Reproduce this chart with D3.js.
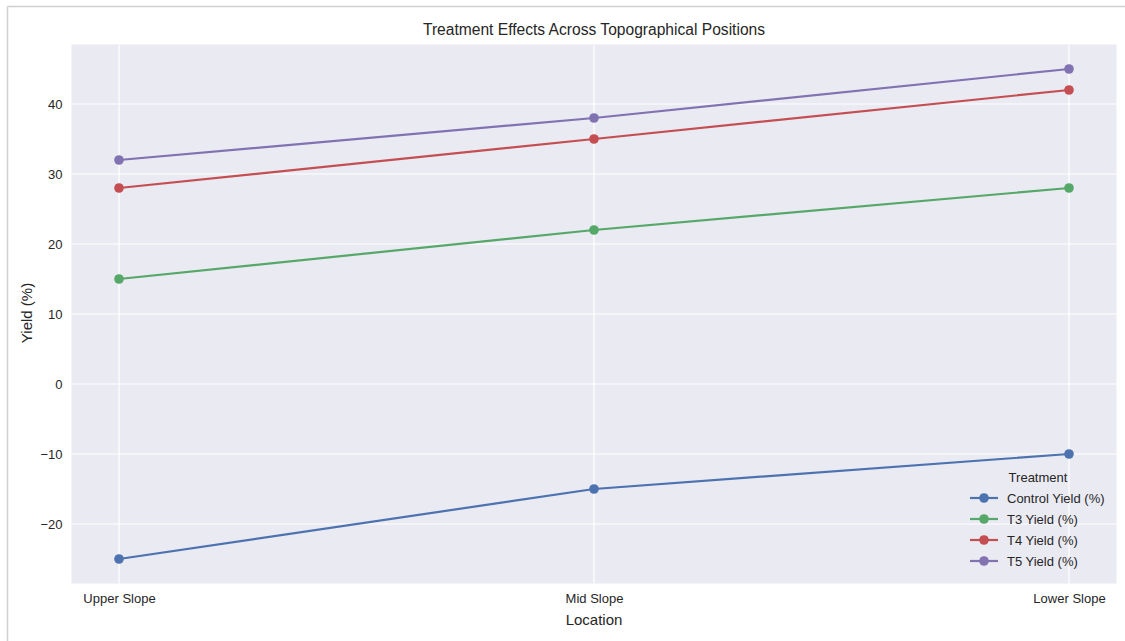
<!DOCTYPE html>
<html><head><meta charset="utf-8">
<script src="https://cdn.jsdelivr.net/npm/d3@7"></script>
<style>body{margin:0;background:#fff;} text{font-family:"Liberation Sans",Arial,sans-serif;}</style>
</head><body>
<svg id="c" width="1125" height="641"></svg>
<script>
const categories = ["Upper Slope", "Mid Slope", "Lower Slope"];
const seriesNames = ["Control Yield (%)", "T3 Yield (%)", "T4 Yield (%)", "T5 Yield (%)"];
const controlYield = [-25, -15, -10];
const t3Yield = [15, 22, 28];
const t4Yield = [28, 35, 42];
const t5Yield = [32, 38, 45];
const yTicks = [-20, -10, 0, 10, 20, 30, 40];
const colors = ["#4C72B0", "#55A868", "#C44E52", "#8172B2"];
const series = [controlYield, t3Yield, t4Yield, t5Yield];

const svg = d3.select("#c");
const L = 71.5, R = 1116.5, T = 44.5, B = 583.5;
// frame border
svg.append("line").attr("x1",7.5).attr("x2",1125).attr("y1",6.5).attr("y2",6.5).attr("stroke","#d0d0d0").attr("stroke-width",1.5);
svg.append("line").attr("x1",7.5).attr("x2",7.5).attr("y1",6.5).attr("y2",641).attr("stroke","#d0d0d0").attr("stroke-width",1.5);

const x = d3.scalePoint().domain(categories).range([119, 1069]);
const y = d3.scaleLinear().domain([-28.5, 48.5]).range([B, T]);

svg.append("rect").attr("x",L).attr("y",T).attr("width",R-L).attr("height",B-T).attr("fill","#EAEAF2");
const g = svg.append("g");
g.selectAll(".hg").data(yTicks).join("line").attr("x1",L).attr("x2",R)
  .attr("y1",d=>y(d)).attr("y2",d=>y(d)).attr("stroke","#fff").attr("stroke-width",1.2);
g.selectAll(".vg").data(categories).join("line").attr("y1",T).attr("y2",B)
  .attr("x1",d=>x(d)).attr("x2",d=>x(d)).attr("stroke","#fff").attr("stroke-width",1.2);

// axes via d3
const ya = svg.append("g").attr("transform",`translate(${L},0)`)
  .call(d3.axisLeft(y).tickValues(yTicks).tickSize(0).tickPadding(9).tickFormat(d=>d<0?"\u2212"+Math.abs(d):d));
ya.select(".domain").remove();
ya.selectAll("text").attr("font-size",13).attr("fill","#262626").attr("font-family","Liberation Sans, Arial, sans-serif");
const xa = svg.append("g").attr("transform",`translate(0,${B})`)
  .call(d3.axisBottom(x).tickSize(0).tickPadding(10));
xa.select(".domain").remove();
xa.selectAll("text").attr("font-size",13).attr("fill","#262626").attr("font-family","Liberation Sans, Arial, sans-serif");

const line = d3.line().x((d,i)=>x(categories[i])).y(d=>y(d));
series.forEach((s,k)=>{
  svg.append("path").attr("d",line(s)).attr("fill","none").attr("stroke",colors[k]).attr("stroke-width",2.2);
  svg.selectAll(null).data(s).join("circle").attr("cx",(d,i)=>x(categories[i])).attr("cy",d=>y(d))
    .attr("r",4.8).attr("fill",colors[k]);
});

svg.append("text").attr("x",594).attr("y",35).attr("text-anchor","middle").attr("font-size",15.6).attr("fill","#262626")
  .text("Treatment Effects Across Topographical Positions");
svg.append("text").attr("x",594).attr("y",625).attr("text-anchor","middle").attr("font-size",15).attr("fill","#262626").text("Location");
svg.append("text").attr("transform","translate(32,313) rotate(-90)").attr("text-anchor","middle").attr("font-size",15).attr("fill","#262626").text("Yield (%)");

// legend
const lg = svg.append("g");
lg.append("text").attr("x",1038).attr("y",482).attr("text-anchor","middle").attr("font-size",13).attr("fill","#262626").text("Treatment");
seriesNames.forEach((n,k)=>{
  const yy = 498 + k*21;
  lg.append("line").attr("x1",970).attr("x2",998).attr("y1",yy).attr("y2",yy).attr("stroke",colors[k]).attr("stroke-width",2.2);
  lg.append("circle").attr("cx",984).attr("cy",yy).attr("r",4.8).attr("fill",colors[k]);
  lg.append("text").attr("x",1007).attr("y",yy+4.5).attr("font-size",13).attr("fill","#262626").text(n);
});
</script>
</body></html>
